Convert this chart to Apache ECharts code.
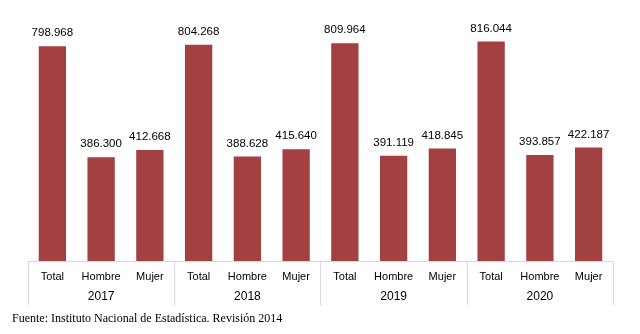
<!DOCTYPE html>
<html><head><meta charset="utf-8">
<script src="https://cdn.jsdelivr.net/npm/echarts@6/dist/echarts.min.js"></script>
<style>html,body{margin:0;padding:0;background:#fff}#c{width:640px;height:334px}</style>
</head><body><div id="c"></div>
<script>
const years = ['2017','2018','2019','2020'];
const groups = ['Total','Hombre','Mujer'];
const categories = ['Total','Hombre','Mujer','Total','Hombre','Mujer','Total','Hombre','Mujer','Total','Hombre','Mujer'];
const values = [798968, 386300, 412668, 804268, 388628, 415640, 809964, 391119, 418845, 816044, 393857, 422187];
const sourceText = 'Fuente: Instituto Nacional de Estadística. Revisión 2014';

const narrow = "'Liberation Sans Narrow', 'Arial Narrow', 'Liberation Sans', Arial, sans-serif";
function fmt(v){ return (v/1000).toFixed(3); }

const chart = echarts.init(document.getElementById('c'));
chart.setOption({
  animation:false,
  backgroundColor:'#fff',
  grid:{left:28,right:27,top:19,bottom:73},
  xAxis:[{
    type:'category', data:categories, position:'bottom',
    axisLine:{show:true,lineStyle:{color:'#D9D9D9',width:1}},
    axisTick:{show:false},
    axisLabel:{color:'#000',fontFamily:narrow,fontSize:11,margin:10,interval:0}
  },{
    type:'category', data:years, position:'bottom', offset:0,
    axisLine:{show:false},
    axisTick:{show:true,length:44,lineStyle:{color:'#D9D9D9',width:1}},
    axisLabel:{color:'#000',fontFamily:narrow,fontSize:12,margin:30,interval:0}
  }],
  yAxis:{type:'value',min:0,max:900000,show:false,splitLine:{show:false}},
  series:[{
    type:'bar', xAxisIndex:0, data:values, barWidth:'56%',
    itemStyle:{color:'#A34142'},
    label:{show:true,position:'top',distance:7,color:'#000',fontFamily:narrow,fontSize:11.5,
      formatter:p=>fmt(p.value)}
  }],
  graphic:[{type:'text',left:12,top:313,style:{text:sourceText,fill:'#000',font:"12px 'Liberation Serif', 'Times New Roman', serif"}}]
});
</script></body></html>
